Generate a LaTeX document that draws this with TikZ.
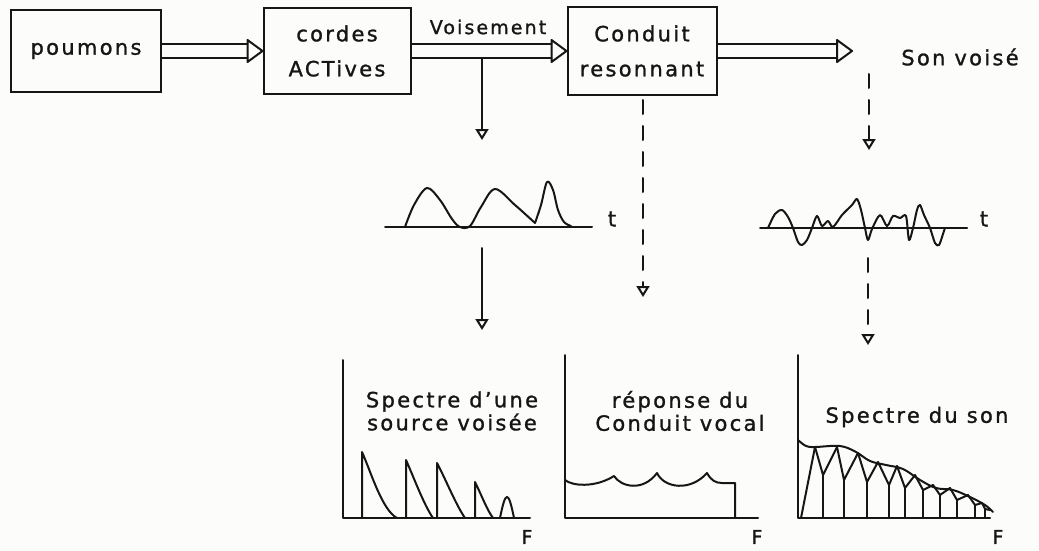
\documentclass[tikz,border=0pt]{standalone}
\usepackage{fontspec}
\setmainfont[LetterSpace=11, FakeBold=1.2]{DejaVu Sans}
\usetikzlibrary{arrows.meta}

\definecolor{ink}{HTML}{161616}
\definecolor{paper}{HTML}{FCFCFB}

% hollow double-shafted arrow between two anchors
\newcommand{\flowarrow}[2]{%
    \draw[pen] ([yshift=7pt]#1) -- ([xshift=-15pt,yshift=7pt]#2);
    \draw[pen] ([yshift=-7pt]#1) -- ([xshift=-15pt,yshift=-7pt]#2);
    \draw[pen] ([xshift=-15pt,yshift=11pt]#2) -- (#2)
      -- ([xshift=-15pt,yshift=-11pt]#2) -- cycle;%
}
\tikzset{
  pen/.style={draw=ink, line width=2pt, line join=round, line cap=round},
  box/.style={draw=ink, line width=2pt, inner sep=0pt, align=center,
    text=ink, font=\fontsize{21}{35}\selectfont},
  hand/.style={text=ink, inner sep=0pt, align=center,
    font=\fontsize{21}{23}\selectfont},
  down/.style={pen, -{Triangle[open, length=11pt, width=13pt]}},
  dashdown/.style={down, dash pattern=on 14pt off 12pt},
}

\begin{document}
\begin{tikzpicture}[x=1pt, y=-1pt]

\fill[paper] (0,0) rectangle (1039,551);
\useasboundingbox (0,0) rectangle (1039,551);

% the three blocks
\node[box, minimum width=150pt, minimum height=82pt] (poumons) at (86,51) {poumons};
\node[box, minimum width=147pt, minimum height=85pt] (cordes) at (337,51) {cordes\\ACTives};
\node[box, minimum width=149pt, minimum height=88pt] (conduit) at (642,51) {Conduit\\resonnant};

\coordinate (son) at (852,51);
\node[hand] (sonlbl) at (960,57) {Son voisé};
\node[hand, font=\fontsize{19}{22}\selectfont] (voismt) at (488,27) {Voisement};

\flowarrow{poumons.east}{cordes.west}
\flowarrow{cordes.east}{conduit.west}
\flowarrow{conduit.east}{son}

% branch points and arrow ends
\coordinate (vsrc) at (482,58);
\coordinate (vwav) at (482,140);
\coordinate (vout) at (482,248);
\coordinate (vspec) at (482,330);
\coordinate (csrc) at (643,100);
\coordinate (cspec) at (643,297);
\coordinate (ssrc) at (869,74);
\coordinate (swav) at (869,150);
\coordinate (sout) at (868,258);
\coordinate (sspec) at (868,345);

\draw[down] (vsrc) -- (vwav);
\draw[down] (vout) -- (vspec);
\draw[dashdown] (csrc) -- (cspec);
\draw[dashdown] (ssrc) -- (swav);
\draw[dashdown] (sout) -- (sspec);

% glottal wave
\draw[pen] (385,227) -- (592,227);
\draw[pen] plot[smooth, tension=0.55] coordinates {(405,227) (414,205) (427,188)
  (440,200) (452,219) (460,227) (470,226) (481,207) (495,189) (515,205)
  (535,223)};
\draw[pen] plot[smooth, tension=0.55] coordinates {(535,223) (541,205) (547,182)
  (553,190) (558,210) (564,222) (571,226)};
\node[hand] (t1) at (612,219) {t};

% voiced sound wave
\draw[pen] (760,228) -- (967,228);
\draw[pen] plot[smooth, tension=0.5] coordinates {(768,228) (775,214) (782,210)
  (788,217) (793,228) (798,242) (802,245) (807,240) (812,228) (817,216)
  (822,226) (828,221) (833,227) (842,215) (852,205) (857,199) (861,210)
  (865,228) (868,240) (872,229) (880,215) (887,226) (893,216) (900,218)
  (906,216) (909,240) (913,228) (917,210) (920,205) (924,215) (930,228)
  (935,243) (939,245) (943,234) (945,228)};
\node[hand] (t2) at (984,219) {t};

% source spectrum
\draw[pen] (343,360) -- (343,518) -- (530,518);
\draw[pen] (362,518) -- (362,452) .. controls (371,472) and (382,510) .. (397,518);
\draw[pen] (406,518) -- (406,460) .. controls (414,478) and (424,505) .. (433,518);
\draw[pen] (437,518) -- (437,463) .. controls (446,480) and (456,505) .. (465,518);
\draw[pen] (475,518) -- (475,482) .. controls (481,494) and (487,510) .. (493,518);
\draw[pen] (500,518) .. controls (503,503) and (505,497) .. (507,497)
  .. controls (509,497) and (511,503) .. (514,518);
\node[hand] (spsrc) at (452,411) {Spectre d'une\\source voisée};
\node[hand, font=\fontsize{19}{22}\selectfont] (fa) at (527,537) {F};

% tract response
\draw[pen] (565,355) -- (565,518) -- (758,518);
\draw[pen] (565,480) .. controls (572,486) and (595,488) .. (614,476)
  .. controls (621,487) and (643,492) .. (657,473)
  .. controls (664,488) and (690,492) .. (707,473)
  .. controls (711,480) and (715,483) .. (722,483) -- (735,483) -- (735,518);
\node[hand] (rep) at (680,411) {réponse du\\Conduit vocal};
\node[hand, font=\fontsize{19}{22}\selectfont] (fb) at (757,537) {F};

% output spectrum
\draw[pen] (798,355) -- (798,518) -- (990,518);
\draw[pen] plot[smooth, tension=0.6] coordinates {(798,440) (806,446) (815,447)
  (840,446) (856,452) (870,461) (886,465) (903,469) (920,480) (936,488)
  (953,490) (970,497) (985,505) (993,512)};
\draw[pen] (801,518) -- (815,447);
\foreach \ax/\ay/\jx/\jy/\bx/\by in {
    815/447/823/475/837/447, 837/447/844/480/858/453,
    858/453/867/482/878/462, 878/462/889/485/897/466,
    897/466/905/488/915/475, 915/475/923/490/933/485,
    933/485/940/495/950/488, 950/488/957/500/968/495,
    968/495/975/505/982/503, 982/503/985/509/990/510}{
  \draw[pen] (\ax,\ay) -- (\jx,\jy) -- (\bx,\by);
  \draw[pen] (\jx,\jy) -- (\jx,518);
}
\node[hand] (spson) at (917,417) {Spectre du son};
\node[hand, font=\fontsize{19}{22}\selectfont] (fc) at (998,537) {F};

\end{tikzpicture}
\end{document}
